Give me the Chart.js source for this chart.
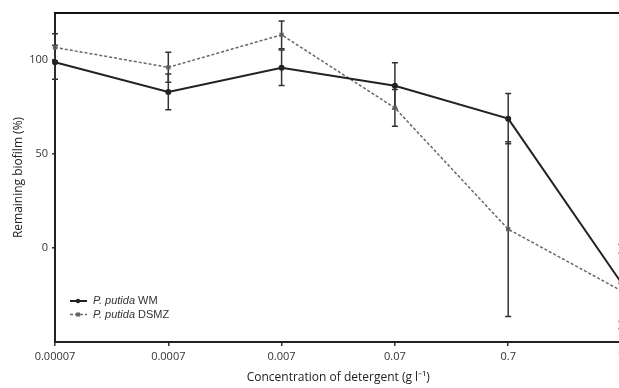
<!DOCTYPE html>
<html lang="en">
<head>
<meta charset="UTF-8">
<title>Remaining biofilm vs detergent</title>
<script src="https://cdn.jsdelivr.net/npm/chart.js"></script>
<style>
  html, body {
    margin: 0;
    padding: 0;
    overflow: hidden;
    background: #fff;
  }
  .wrap {
    width: 660px;
    height: 388px;
  }
</style>
</head>
<body>

<div class="wrap"><canvas id="chart" width="660" height="388"></canvas></div>

<script>
// values
const concLabels = ['0.00007', '0.0007', '0.007', '0.07', '0.7', '7'];
const wmValues   = [98.8, 83.0, 95.9, 86.3, 68.8, -18.6];
const wmErrors   = [9.1, 9.5, 9.4, 12.3, 13.4, 20.5];
const dsmzValues = [106.7, 96.1, 113.4, 74.5, 10.0, -22.8];
const dsmzErrors = [7.2, 8.0, 7.4, 9.8, 46.5, 20.0];
const yTicks = [0, 50, 100];

const errorBars = {
  id: 'errorBars',
  beforeDatasetsDraw(chart) {
    const ctx = chart.ctx;
    const y = chart.scales.y;
    chart.data.datasets.forEach((ds, i) => {
      const meta = chart.getDatasetMeta(i);
      ctx.save();
      ctx.strokeStyle = '#333';
      ctx.lineWidth = 1.5;
      meta.data.forEach((pt, j) => {
        const e = ds.errors[j];
        const top = y.getPixelForValue(ds.data[j] + e);
        const bot = y.getPixelForValue(ds.data[j] - e);
        ctx.beginPath();
        ctx.moveTo(pt.x, top); ctx.lineTo(pt.x, bot);
        ctx.moveTo(pt.x - 3, top); ctx.lineTo(pt.x + 3, top);
        ctx.moveTo(pt.x - 3, bot); ctx.lineTo(pt.x + 3, bot);
        ctx.stroke();
      });
      ctx.restore();
    });
  }
};

const frameAndLegend = {
  id: 'frameAndLegend',
  afterDraw(chart) {
    const ctx = chart.ctx;
    const a = chart.chartArea;
    ctx.save();
    // top frame line
    ctx.strokeStyle = '#111';
    ctx.lineWidth = 2;
    ctx.beginPath();
    ctx.moveTo(a.left - 1, a.top);
    ctx.lineTo(a.right, a.top);
    ctx.stroke();

    // legend
    const entries = [
      { name: 'WM', color: '#222', dash: [], width: 2, square: false },
      { name: 'DSMZ', color: '#666', dash: [3, 2], width: 1.5, square: true }
    ];
    entries.forEach((en, k) => {
      const ly = a.bottom - 41 + k * 13.5;
      const lx = a.left + 15;
      ctx.strokeStyle = en.color;
      ctx.lineWidth = en.width;
      ctx.setLineDash(en.dash);
      ctx.beginPath();
      ctx.moveTo(lx, ly);
      ctx.lineTo(lx + 17, ly);
      ctx.stroke();
      ctx.setLineDash([]);
      ctx.fillStyle = en.color;
      if (en.square) {
        ctx.fillRect(lx + 6, ly - 2, 4, 4);
      } else {
        ctx.beginPath();
        ctx.arc(lx + 8, ly, 2.2, 0, Math.PI * 2);
        ctx.fill();
      }
      ctx.fillStyle = '#333';
      ctx.textBaseline = 'middle';
      ctx.font = 'italic 11px "Liberation Sans", Arial, sans-serif';
      ctx.fillText('P. putida', lx + 23, ly);
      const w = ctx.measureText('P. putida ').width;
      ctx.font = '11px "Liberation Sans", Arial, sans-serif';
      ctx.fillText(en.name, lx + 23 + w, ly);
    });
    ctx.restore();
  }
};

new Chart(document.getElementById('chart'), {
  type: 'line',
  data: {
    labels: concLabels,
    datasets: [
      {
        label: 'P. putida WM',
        data: wmValues,
        errors: wmErrors,
        borderColor: '#222',
        backgroundColor: '#222',
        borderWidth: 2,
        pointStyle: 'circle',
        pointRadius: 2,
        tension: 0
      },
      {
        label: 'P. putida DSMZ',
        data: dsmzValues,
        errors: dsmzErrors,
        borderColor: '#666',
        backgroundColor: '#444',
        borderWidth: 1.5,
        borderDash: [3, 2],
        pointStyle: 'rect',
        pointRadius: 2,
        tension: 0
      }
    ]
  },
  options: {
    responsive: false,
    animation: false,
    layout: { padding: { top: 13, right: 38.5, left: 0, bottom: 0 } },
    plugins: {
      legend: { display: false },
      tooltip: { enabled: false }
    },
    scales: {
      x: {
        offset: false,
        afterFit(scale) { scale.height = 46; },
        grid: { display: true, drawOnChartArea: false, drawTicks: true, tickLength: 4, color: '#333', lineWidth: 1.5 },
        border: { display: true, color: '#222', width: 2 },
        ticks: {
          color: '#333',
          padding: 4,
          maxRotation: 0,
          autoSkip: false,
          font: { family: '"Open Sans", sans-serif', size: 11 }
        },
        title: {
          display: true,
          text: 'Concentration of detergent (g l⁻¹)',
          color: '#222',
          padding: { top: 0, bottom: 3 },
          font: { family: '"Open Sans", sans-serif', size: 12 }
        }
      },
      y: {
        min: -50,
        max: 125,
        afterFit(scale) { scale.width = 55; },
        afterBuildTicks(scale) { scale.ticks = yTicks.map(v => ({ value: v })); },
        grid: { display: true, drawOnChartArea: false, drawTicks: true, tickLength: 3, color: '#333', lineWidth: 1.5 },
        border: { display: true, color: '#222', width: 2 },
        ticks: {
          color: '#333',
          padding: 4,
          font: { family: '"Open Sans", sans-serif', size: 11 }
        },
        title: {
          display: true,
          text: 'Remaining biofilm (%)',
          color: '#222',
          padding: { top: 11, bottom: 0 },
          font: { family: '"Open Sans", sans-serif', size: 12 }
        }
      }
    }
  },
  plugins: [errorBars, frameAndLegend]
});
</script>

</body>
</html>
